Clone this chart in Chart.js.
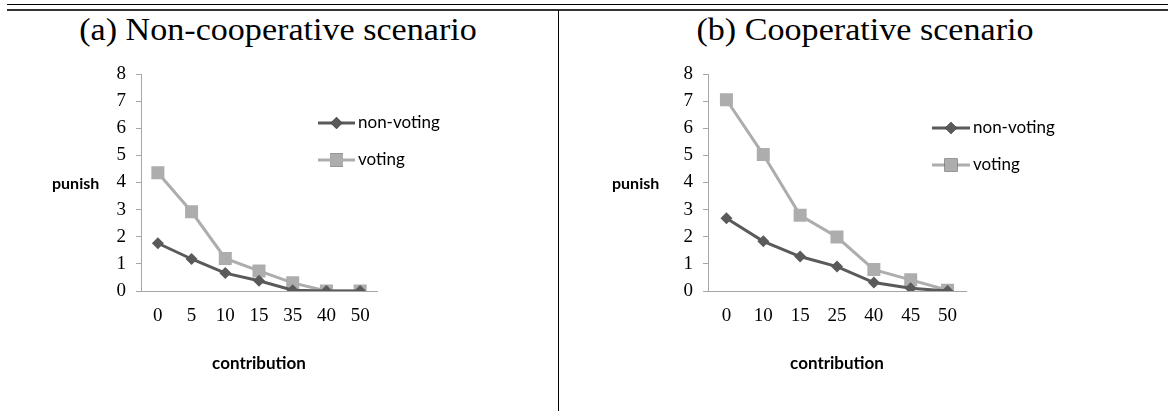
<!DOCTYPE html>
<html>
<head>
<meta charset="utf-8">
<script src="https://cdn.jsdelivr.net/npm/chart.js@4.4.1/dist/chart.umd.min.js"></script>
<style>
  html, body { margin: 0; padding: 0; background: #fff; }
  body { width: 1168px; height: 411px; position: relative; overflow: hidden; }
  .rule { position: absolute; left: 7px; right: 0; background: #000; }
  #vline { position: absolute; left: 558px; top: 10px; width: 1px; height: 401px; background: #000; }
  .ptitle { position: absolute; top: 12px; font-family: "Liberation Serif", serif; font-size: 31px; color: #000; white-space: nowrap; transform: translateX(-50%) scaleX(1.1); transform-origin: center; }
  canvas { position: absolute; top: 0; }
</style>
</head>
<body>
<div class="rule" style="top:4px;height:1px;"></div>
<div class="rule" style="top:9px;height:2px;background:#333;"></div>
<div id="vline"></div>
<div class="ptitle" style="left:278px;">(a) Non-cooperative scenario</div>
<div class="ptitle" style="left:865px;">(b) Cooperative scenario</div>
<div style="position:absolute;left:0;top:0;width:558px;height:411px;"><canvas id="c1"></canvas></div>
<div style="position:absolute;left:559px;top:0;width:609px;height:411px;"><canvas id="c2"></canvas></div>
<script>
// ---- data ----
const seriesNames = ["non-voting", "voting"];
const yTicks = [0, 1, 2, 3, 4, 5, 6, 7, 8];

const catsA = ["0", "5", "10", "15", "35", "40", "50"];
const nonVotingA = [1.76, 1.18, 0.66, 0.38, 0.03, 0, 0];
const votingA = [4.36, 2.92, 1.2, 0.74, 0.3, 0, 0];

const catsB = ["0", "10", "15", "25", "40", "45", "50"];
const nonVotingB = [2.68, 1.83, 1.27, 0.9, 0.31, 0.1, 0];
const votingB = [7.05, 5.03, 2.79, 1.99, 0.79, 0.41, 0.03];

const xTitle = "contribution";
const yTitle = "punish";

// ---- styles ----
const darkCol = "#5a5a5a";
const lightCol = "#adadad";
const axisCol = "#a6a6a6";
const serifFont = "'Liberation Serif', serif";
const sansFont = "Lato, 'Open Sans', sans-serif";

const extrasPlugin = {
  id: "extras",
  afterDraw(chart, args, opts) {
    const ctx = chart.ctx;
    ctx.save();
    // horizontal y-axis title
    ctx.fillStyle = "#000";
    ctx.font = "bold 16px " + sansFont;
    ctx.textAlign = "left";
    ctx.textBaseline = "middle";
    ctx.fillText(yTitle, opts.yTitleX, opts.yTitleY);
    // legend
    chart.data.datasets.forEach((ds, i) => {
      const y = opts.legY + i * opts.legGap;
      ctx.strokeStyle = ds.borderColor;
      ctx.lineWidth = 3;
      ctx.beginPath();
      ctx.moveTo(opts.legX, y);
      ctx.lineTo(opts.legX + opts.legLen, y);
      ctx.stroke();
      Chart.helpers.drawPoint(ctx, {
        pointStyle: ds.pointStyle,
        radius: ds.pointRadius,
        borderWidth: 0,
        rotation: 0
      }, opts.legX + opts.legLen / 2, y);
      ctx.fillStyle = ds.pointBackgroundColor;
      ctx.fill();
      ctx.fillStyle = "#000";
      ctx.font = "17px " + sansFont;
      ctx.fillText(ds.label, opts.legX + opts.legLen + 3, y);
    });
    ctx.restore();
  }
};

function makeChart(id, cats, nv, v, pad, extras) {
  return new Chart(document.getElementById(id), {
    type: "line",
    data: {
      labels: cats,
      datasets: [
        { label: seriesNames[0], data: nv, borderColor: darkCol, backgroundColor: darkCol,
          pointBackgroundColor: darkCol, pointBorderWidth: 0, borderWidth: 3,
          pointStyle: "rectRot", pointRadius: 6, tension: 0 },
        { label: seriesNames[1], data: v, borderColor: lightCol, backgroundColor: lightCol,
          pointBackgroundColor: lightCol, pointBorderWidth: 0, borderWidth: 3,
          pointStyle: "rect", pointRadius: 9.2, tension: 0 }
      ]
    },
    options: {
      responsive: true,
      maintainAspectRatio: false,
      animation: false,
      layout: { padding: pad },
      plugins: { legend: { display: false }, tooltip: { enabled: false }, extras: extras },
      scales: {
        x: {
          offset: true,
          grid: { display: true, drawOnChartArea: false, drawTicks: false },
          border: { display: true, color: axisCol, width: 1 },
          ticks: { color: "#000", font: { family: serifFont, size: 19 }, padding: 14, maxRotation: 0 },
          title: { display: true, text: xTitle, color: "#000", font: { family: sansFont, size: 17, weight: "bold" }, padding: { top: 0, bottom: 0 } },
          afterFit(s) { s.height = 83; }
        },
        y: {
          min: 0, max: 8,
          afterBuildTicks(s) { s.ticks = yTicks.map(t => ({ value: t })); },
          grid: { display: true, drawOnChartArea: false, drawTicks: true, tickLength: 5, color: axisCol },
          border: { display: true, color: axisCol, width: 1 },
          ticks: { color: "#000", font: { family: serifFont, size: 19 }, padding: 10 },
          afterFit(s) { s.width = 40; }
        }
      }
    },
    plugins: [extrasPlugin]
  });
}

makeChart("c1", catsA, nonVotingA, votingA,
  { left: 101, right: 181, top: 74, bottom: 37 },
  { yTitleX: 52, yTitleY: 184, legX: 318, legLen: 37, legY: 123, legGap: 37 });

makeChart("c2", catsB, nonVotingB, votingB,
  { left: 109, right: 202, top: 74, bottom: 37 },
  { yTitleX: 53, yTitleY: 184, legX: 373, legLen: 38, legY: 128, legGap: 37 });
</script>
</body>
</html>
